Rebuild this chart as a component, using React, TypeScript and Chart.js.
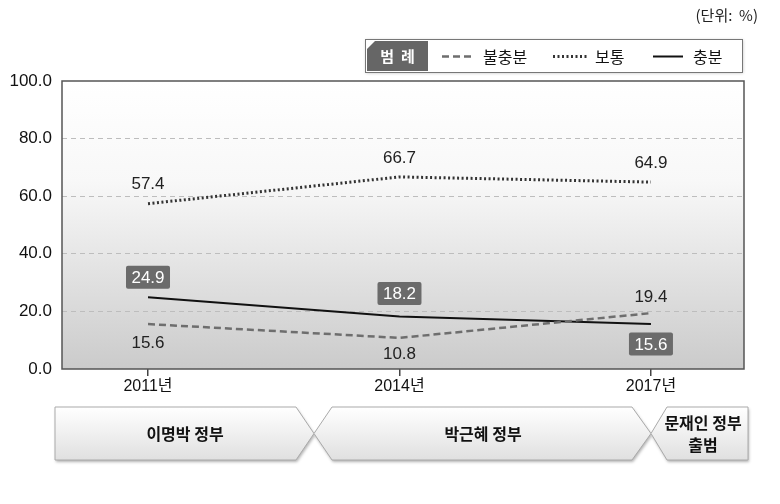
import React, { useEffect, useRef } from 'react';
import { Chart, registerables } from 'chart.js';

Chart.register(...registerables);

const categories = ['2011년', '2014년', '2017년'];
const years = [2011, 2014, 2017];
const insufficient = [15.6, 10.8, 19.4];
const normal = [57.4, 66.7, 64.9];
const sufficient = [24.9, 18.2, 15.6];
const yTicks = [0, 20, 40, 60, 80, 100];
const seriesNames = ['불충분', '보통', '충분'];
const eras = ['이명박 정부', '박근혜 정부', '문재인 정부\n출범'];
const unitText = '(단위:  %)';
const legendTitle = '범  례';

const FONT = "'Liberation Sans', 'Noto Sans CJK KR', Arial, sans-serif";
const KFONT = "'Noto Sans CJK KR', 'Liberation Sans', sans-serif";

// label placement offsets (px from point), per series
const labelOffsets = [
  [18, 15, -17],
  [-20, -20, -20],
  [-20, -23, 20],
];

const decorPlugin = {
  id: 'decor',
  beforeDraw(chart: any) {
    const { ctx, chartArea: a } = chart;
    ctx.save();
    const g = ctx.createLinearGradient(0, a.top, 0, a.bottom);
    g.addColorStop(0, '#ffffff');
    g.addColorStop(0.35, '#f8f8f8');
    g.addColorStop(1, '#cbcbcb');
    ctx.fillStyle = g;
    ctx.fillRect(a.left, a.top, a.right - a.left, a.bottom - a.top);
    ctx.restore();
  },
  afterDraw(chart: any) {
    const { ctx, chartArea: a } = chart;
    ctx.save();
    // frame
    ctx.strokeStyle = '#555';
    ctx.lineWidth = 1.5;
    ctx.strokeRect(a.left, a.top, a.right - a.left, a.bottom - a.top);

    // unit text
    ctx.fillStyle = '#222';
    ctx.font = `15px ${KFONT}`;
    ctx.textAlign = 'right';
    ctx.textBaseline = 'middle';
    ctx.fillText(unitText, 758, 15);

    // legend box
    const lx = 365, ly = 39, lw = 377, lh = 33;
    ctx.save();
    ctx.shadowColor = 'rgba(0,0,0,0.25)';
    ctx.shadowBlur = 3;
    ctx.shadowOffsetX = 1;
    ctx.shadowOffsetY = 1;
    ctx.fillStyle = '#fff';
    ctx.fillRect(lx, ly, lw, lh);
    ctx.restore();
    ctx.strokeStyle = '#777';
    ctx.lineWidth = 1;
    ctx.strokeRect(lx + 0.5, ly + 0.5, lw, lh);
    // title tab
    const tx = lx + 2, ty = ly + 2, tw = 61, th = lh - 3;
    ctx.fillStyle = '#666';
    ctx.beginPath();
    ctx.moveTo(tx + 8, ty);
    ctx.lineTo(tx + tw, ty);
    ctx.lineTo(tx + tw, ty + th);
    ctx.lineTo(tx, ty + th);
    ctx.lineTo(tx, ty + 8);
    ctx.closePath();
    ctx.fill();
    ctx.fillStyle = '#fff';
    ctx.font = `bold 15px ${KFONT}`;
    ctx.textAlign = 'center';
    ctx.fillText(legendTitle, tx + tw / 2, ly + lh / 2 + 1);

    const ds = chart.data.datasets;
    const items = [
      { x1: 442, x2: 475, tx: 483 },
      { x1: 553, x2: 587, tx: 595 },
      { x1: 653, x2: 683, tx: 693 },
    ];
    items.forEach((it, i) => {
      const d = ds[i];
      ctx.save();
      ctx.strokeStyle = d.borderColor;
      ctx.lineWidth = d.borderWidth;
      ctx.setLineDash(d.borderDash || []);
      ctx.beginPath();
      ctx.moveTo(it.x1, ly + lh / 2 + 1);
      ctx.lineTo(it.x2, ly + lh / 2 + 1);
      ctx.stroke();
      ctx.restore();
      ctx.fillStyle = '#111';
      ctx.font = `16px ${KFONT}`;
      ctx.textAlign = 'left';
      ctx.fillText(d.label, it.tx, ly + lh / 2 + 1);
    });

    // era chevrons
    const top = 407, bot = 460, mid = (top + bot) / 2;
    const shapes = [
      [[55, top], [296, top], [314, mid], [296, bot], [55, bot]],
      [[332, top], [632, top], [651, mid], [632, bot], [332, bot], [314, mid]],
      [[667, top], [748, top], [748, bot], [667, bot], [651, mid]],
    ];
    const centers = [185, 483, 703];
    shapes.forEach((pts, i) => {
      ctx.save();
      ctx.shadowColor = 'rgba(0,0,0,0.3)';
      ctx.shadowBlur = 3;
      ctx.shadowOffsetX = 1;
      ctx.shadowOffsetY = 2;
      const g = ctx.createLinearGradient(0, top, 0, bot);
      g.addColorStop(0, '#ffffff');
      g.addColorStop(1, '#e0e0e0');
      ctx.fillStyle = g;
      ctx.beginPath();
      pts.forEach((p, j) => (j ? ctx.lineTo(p[0], p[1]) : ctx.moveTo(p[0], p[1])));
      ctx.closePath();
      ctx.fill();
      ctx.restore();
      ctx.strokeStyle = '#aaa';
      ctx.lineWidth = 1;
      ctx.stroke();
      ctx.fillStyle = '#111';
      ctx.font = `bold 16px ${KFONT}`;
      ctx.textAlign = 'center';
      ctx.textBaseline = 'middle';
      const lines = eras[i].split('\n');
      const lhgt = 22;
      lines.forEach((t, k) => {
        ctx.fillText(t, centers[i], mid + (k - (lines.length - 1) / 2) * lhgt);
      });
    });
    ctx.restore();
  },
  afterDatasetsDraw(chart: any) {
    const { ctx } = chart;
    ctx.save();
    ctx.textAlign = 'center';
    ctx.textBaseline = 'middle';
    ctx.font = `17px ${FONT}`;
    chart.data.datasets.forEach((d: any, si: number) => {
      const meta = chart.getDatasetMeta(si);
      meta.data.forEach((pt: any, i: number) => {
        const val = d.data[i].y.toFixed(1);
        const x = pt.x;
        const y = pt.y + labelOffsets[si][i];
        if (si === 2) {
          const w = 44, h = 23;
          ctx.fillStyle = '#6b6b6b';
          ctx.beginPath();
          if (ctx.roundRect) ctx.roundRect(x - w / 2, y - h / 2, w, h, 2);
          else ctx.rect(x - w / 2, y - h / 2, w, h);
          ctx.fill();
          ctx.fillStyle = '#fff';
          ctx.fillText(val, x, y + 1);
        } else {
          ctx.fillStyle = '#222';
          ctx.fillText(val, x, y + 1);
        }
      });
    });
    ctx.restore();
  },
};

export default function App() {
  const ref = useRef<HTMLCanvasElement>(null);
  useEffect(() => {
    const toPts = (arr: number[]) => arr.map((v, i) => ({ x: years[i], y: v }));
    const chart = new Chart(ref.current as HTMLCanvasElement, {
      type: 'line',
      data: {
        datasets: [
          {
            label: seriesNames[0],
            data: toPts(insufficient),
            borderColor: '#6e6e6e',
            borderWidth: 2.5,
            borderDash: [7, 4],
            pointRadius: 0,
            tension: 0,
          },
          {
            label: seriesNames[1],
            data: toPts(normal),
            borderColor: '#333333',
            borderWidth: 3,
            borderDash: [2, 2.5],
            pointRadius: 0,
            tension: 0,
          },
          {
            label: seriesNames[2],
            data: toPts(sufficient),
            borderColor: '#111111',
            borderWidth: 2,
            pointRadius: 0,
            tension: 0,
          },
        ],
      } as any,
      options: {
        animation: false,
        responsive: false,
        maintainAspectRatio: false,
        layout: { padding: { top: 81, right: 36, left: 0, bottom: 0 } },
        plugins: { legend: { display: false }, tooltip: { enabled: false } },
        scales: {
          x: {
            type: 'linear',
            min: 2009.974,
            max: 2018.11,
            afterBuildTicks: (s: any) => {
              s.ticks = years.map((v) => ({ value: v }));
            },
            afterFit: (s: any) => {
              s.height = 135;
            },
            ticks: {
              callback: (v: any) => categories[years.indexOf(v)] ?? '',
              color: '#111',
              font: { family: FONT, size: 16 },
              padding: 1,
              maxRotation: 0,
              autoSkip: false,
            },
            grid: {
              drawOnChartArea: false,
              drawTicks: true,
              tickLength: 7,
              color: '#444',
              lineWidth: 1.5,
            },
            border: { display: false },
          },
          y: {
            min: 0,
            max: 100,
            afterBuildTicks: (s: any) => {
              s.ticks = yTicks.map((v) => ({ value: v }));
            },
            afterFit: (s: any) => {
              s.width = 62;
            },
            ticks: {
              callback: (v: any) => Number(v).toFixed(1),
              color: '#111',
              font: { family: FONT, size: 17 },
              padding: 10,
            },
            grid: {
              drawTicks: false,
              color: (c: any) => (c.tick && (c.tick.value === 0 || c.tick.value === 100) ? 'rgba(0,0,0,0)' : '#bdbdbd'),
              lineWidth: 1,
            },
            border: { display: false, dash: [5, 4] },
          },
        },
      } as any,
      plugins: [decorPlugin],
    });
    return () => chart.destroy();
  }, []);
  return (
    <div style={{ position: 'fixed', left: 0, top: 0, width: 780, height: 504, background: '#fff' }}>
      <canvas ref={ref} width={780} height={504} style={{ width: 780, height: 504 }} />
    </div>
  );
}
